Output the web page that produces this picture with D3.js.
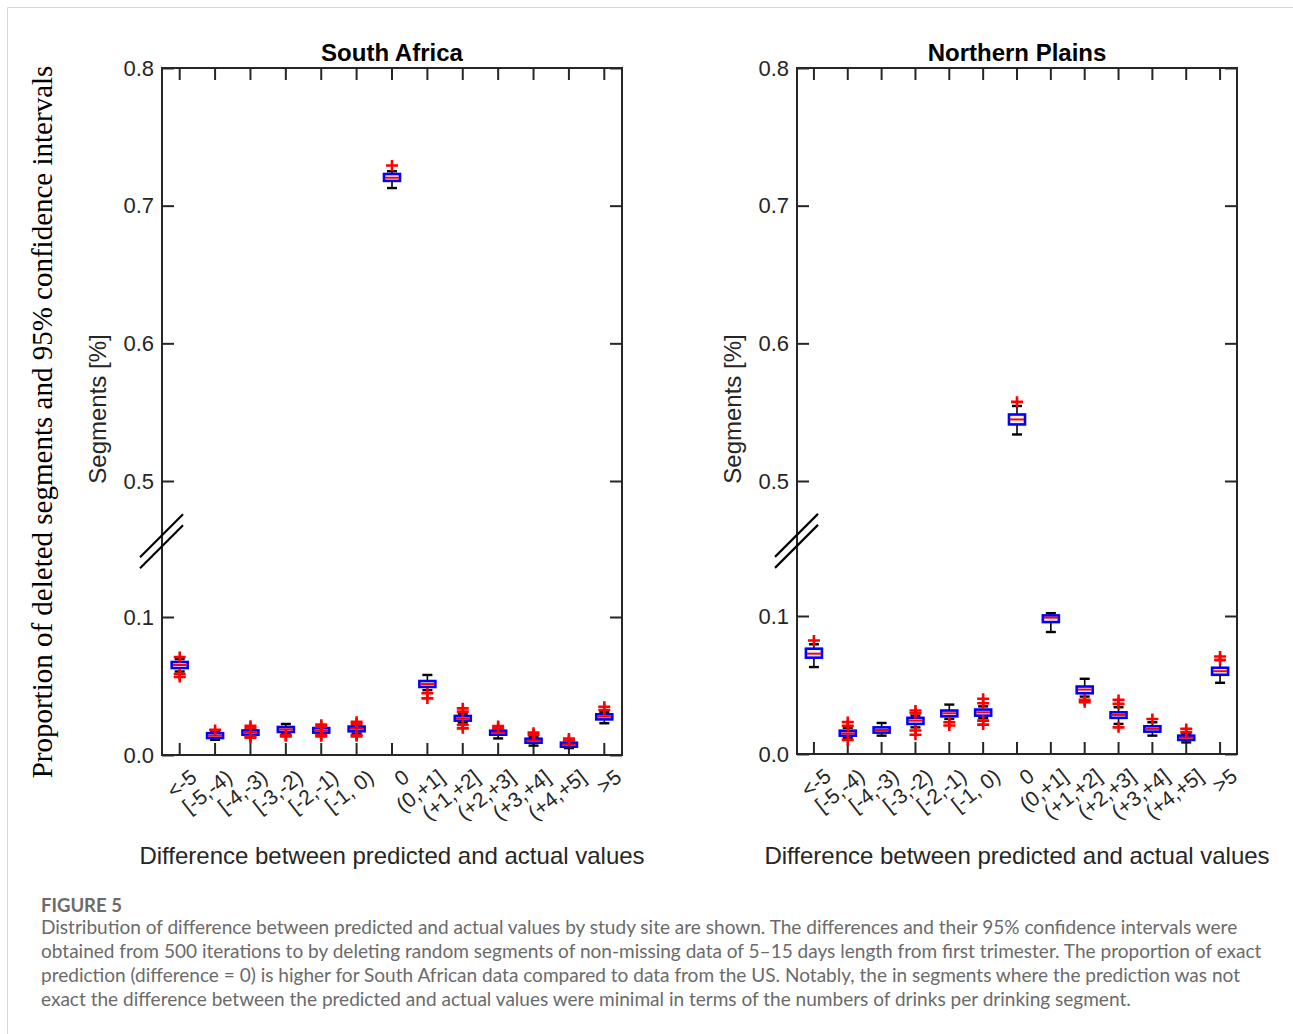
<!DOCTYPE html>
<html>
<head>
<meta charset="utf-8">
<script src="https://cdn.jsdelivr.net/npm/d3@7"></script>
<style>
  body { margin: 0; background: #fff; }
  svg { display: block; }
</style>
</head>
<body>
<div id="chart"></div>
<script>
// categories on the x axis
var categories = ["<-5", "[-5,-4)", "[-4,-3)", "[-3,-2)", "[-2,-1)", "[-1, 0)", "0",
  "(0,+1]", "(+1,+2]", "(+2,+3]", "(+3,+4]", "(+4,+5]", ">5"];

// y ticks (axis is broken between 0.1 and 0.5)
var yTicks = [0, 0.1, 0.5, 0.6, 0.7, 0.8];

// South Africa boxplot stats
var saLo  = [0.0605, 0.0110, 0.0140, 0.0155, 0.0155, 0.0155, 0.7128, 0.0470, 0.0235, 0.0120, 0.0068, 0.0050, 0.0230];
var saQ1  = [0.0630, 0.0123, 0.0147, 0.0167, 0.0162, 0.0172, 0.7180, 0.0493, 0.0249, 0.0147, 0.0089, 0.0060, 0.0258];
var saMed = [0.0652, 0.0140, 0.0164, 0.0186, 0.0178, 0.0190, 0.7203, 0.0514, 0.0266, 0.0162, 0.0104, 0.0075, 0.0278];
var saQ3  = [0.0674, 0.0158, 0.0178, 0.0203, 0.0195, 0.0206, 0.7230, 0.0536, 0.0283, 0.0176, 0.0118, 0.0089, 0.0295];
var saHi  = [0.0695, 0.0165, 0.0190, 0.0225, 0.0200, 0.0215, 0.7250, 0.0580, 0.0300, 0.0185, 0.0130, 0.0095, 0.0310];
var saOut = [
  [0.0710, 0.0587, 0.0565],
  [0.0182],
  [0.0212, 0.0197, 0.0133, 0.0125],
  [0.0145, 0.0135],
  [0.0220, 0.0205, 0.0145, 0.0135],
  [0.0241, 0.0225, 0.0145, 0.0135],
  [0.7292],
  [0.0447, 0.0410],
  [0.0338, 0.0314, 0.0217, 0.0193],
  [0.0210, 0.0193],
  [0.0162, 0.0145],
  [0.0120, 0.0104],
  [0.0350, 0.0326]
];

// Northern Plains boxplot stats
var npLo  = [0.0630, 0.0115, 0.0133, 0.0193, 0.0254, 0.0260, 0.5338, 0.0884, 0.0416, 0.0218, 0.0133, 0.0084, 0.0516];
var npQ1  = [0.0698, 0.0133, 0.0155, 0.0218, 0.0273, 0.0278, 0.5411, 0.0956, 0.0440, 0.0262, 0.0162, 0.0102, 0.0574];
var npMed = [0.0727, 0.0150, 0.0174, 0.0242, 0.0295, 0.0302, 0.5447, 0.0988, 0.0467, 0.0283, 0.0182, 0.0118, 0.0600];
var npQ3  = [0.0763, 0.0169, 0.0193, 0.0262, 0.0315, 0.0322, 0.5483, 0.1017, 0.0489, 0.0302, 0.0201, 0.0133, 0.0625];
var npHi  = [0.0795, 0.0190, 0.0225, 0.0278, 0.0358, 0.0345, 0.5545, 0.1083, 0.0545, 0.0339, 0.0230, 0.0145, 0.0680];
var npOut = [
  [0.0823],
  [0.0232, 0.0205, 0.0102],
  [],
  [0.0315, 0.0295, 0.0170, 0.0140],
  [0.0230, 0.0206],
  [0.0400, 0.0368, 0.0242, 0.0213],
  [0.5575],
  [],
  [0.0392, 0.0375],
  [0.0392, 0.0363, 0.0193],
  [0.0254],
  [0.0182, 0.0157],
  [0.0707, 0.0683]
];

var captionTitle = "FIGURE 5";
var captionLines = [
  "Distribution of difference between predicted and actual values by study site are shown. The differences and their 95% confidence intervals were",
  "obtained from 500 iterations to by deleting random segments of non-missing data of 5\u201315 days length from first trimester. The proportion of exact",
  "prediction (difference = 0) is higher for South African data compared to data from the US. Notably, the in segments where the prediction was not",
  "exact the difference between the predicted and actual values were minimal in terms of the numbers of drinks per drinking segment."
];

var W = 1293, H = 1034;
var axisFont = "Arial, 'Liberation Sans', Helvetica, sans-serif";
var ink = "#262626";

var svg = d3.select("#chart").append("svg")
  .attr("width", W).attr("height", H);

// outer frame (top and left visible)
svg.append("path")
  .attr("d", "M7.5," + H + "V7.5H" + W)
  .attr("fill", "none").attr("stroke", "#d6d6d6").attr("stroke-width", 1);

function stats(lo, q1, med, q3, hi, out) {
  return categories.map(function (c, i) {
    return { cat: c, lo: lo[i], q1: q1[i], med: med[i], q3: q3[i], hi: hi[i], out: out[i] };
  });
}

function panel(opts) {
  var x0 = opts.x0, x1 = opts.x1, top = 68, bottom = opts.bottom;
  var x = d3.scaleBand().domain(categories).range([x0, x1]);
  var y = d3.scaleLinear().domain([0, 0.1, 0.5, 0.8]).range([bottom, bottom - 138, 481, top]);
  var g = svg.append("g");

  // title
  g.append("text")
    .attr("x", (x0 + x1) / 2).attr("y", 61)
    .attr("text-anchor", "middle")
    .style("font-family", axisFont).style("font-size", "24px").style("font-weight", "bold")
    .attr("fill", "#000")
    .text(opts.title);

  // left axis with labels
  var yl = g.append("g").attr("transform", "translate(" + x0 + ",0)")
    .call(d3.axisLeft(y).tickValues(yTicks).tickFormat(d3.format(".1f"))
      .tickSizeInner(-12).tickSizeOuter(0).tickPadding(8));
  yl.select(".domain").remove();
  yl.selectAll("line").attr("stroke", ink).attr("stroke-width", 2);
  yl.selectAll("text").style("font-family", axisFont).style("font-size", "22px").attr("fill", ink);

  // right axis, ticks only
  var yr = g.append("g").attr("transform", "translate(" + x1 + ",0)")
    .call(d3.axisRight(y).tickValues(yTicks).tickFormat("")
      .tickSizeInner(-12).tickSizeOuter(0));
  yr.select(".domain").remove();
  yr.selectAll("line").attr("stroke", ink).attr("stroke-width", 2);

  // top axis, ticks only
  var xt = g.append("g").attr("transform", "translate(0," + top + ")")
    .call(d3.axisTop(x).tickFormat("").tickSizeInner(-12).tickSizeOuter(0));
  xt.select(".domain").remove();
  xt.selectAll("line").attr("stroke", ink).attr("stroke-width", 2);

  // bottom axis with rotated labels
  var xb = g.append("g").attr("transform", "translate(0," + bottom + ")")
    .call(d3.axisBottom(x).tickSizeInner(-12).tickSizeOuter(0));
  xb.select(".domain").remove();
  xb.selectAll("line").attr("stroke", ink).attr("stroke-width", 2);
  xb.selectAll("text")
    .attr("x", 0).attr("y", 0).attr("dy", null)
    .attr("text-anchor", "end")
    .attr("dominant-baseline", "central")
    .attr("transform", "translate(14,19) rotate(-38)")
    .style("font-family", axisFont).style("font-size", "21px").attr("fill", ink);

  // box frame
  g.append("rect")
    .attr("x", x0).attr("y", top).attr("width", x1 - x0).attr("height", bottom - top)
    .attr("fill", "none").attr("stroke", ink).attr("stroke-width", 2);

  // axis break marks
  var by = y(0.5) + 0.44 * (y(0.1) - y(0.5));
  [-5.5, 5.5].forEach(function (off) {
    g.append("line")
      .attr("x1", x0 - 22).attr("y1", by + off + 22)
      .attr("x2", x0 + 21).attr("y2", by + off - 21)
      .attr("stroke", "#000").attr("stroke-width", 2.2);
  });

  // y label
  g.append("text")
    .attr("transform", "translate(" + (x0 - 56) + "," + 409 + ") rotate(-90)")
    .attr("text-anchor", "middle")
    .style("font-family", axisFont).style("font-size", "24px")
    .attr("fill", ink)
    .text("Segments [%]");

  // x label
  g.append("text")
    .attr("x", (x0 + x1) / 2).attr("y", 864)
    .attr("text-anchor", "middle")
    .style("font-family", axisFont).style("font-size", "24px")
    .attr("fill", ink)
    .text("Difference between predicted and actual values");

  // boxes
  var bw = 16, cw = 10;
  var boxes = g.selectAll(".box").data(opts.data).enter().append("g")
    .attr("class", "box")
    .attr("transform", function (d) { return "translate(" + (x(d.cat) + x.bandwidth() / 2) + ",0)"; });

  // whiskers
  boxes.append("line").attr("x1", 0).attr("x2", 0)
    .attr("y1", function (d) { return y(d.q3); }).attr("y2", function (d) { return y(d.hi); })
    .attr("stroke", "#000").attr("stroke-width", 1.6);
  boxes.append("line").attr("x1", 0).attr("x2", 0)
    .attr("y1", function (d) { return y(d.q1); }).attr("y2", function (d) { return y(d.lo); })
    .attr("stroke", "#000").attr("stroke-width", 1.6);
  boxes.append("line").attr("x1", -cw / 2).attr("x2", cw / 2)
    .attr("y1", function (d) { return y(d.hi); }).attr("y2", function (d) { return y(d.hi); })
    .attr("stroke", "#000").attr("stroke-width", 2.4);
  boxes.append("line").attr("x1", -cw / 2).attr("x2", cw / 2)
    .attr("y1", function (d) { return y(d.lo); }).attr("y2", function (d) { return y(d.lo); })
    .attr("stroke", "#000").attr("stroke-width", 2.4);

  // box
  boxes.append("rect")
    .attr("x", -bw / 2).attr("width", bw)
    .attr("y", function (d) { return y(d.q3); })
    .attr("height", function (d) { return Math.max(1, y(d.q1) - y(d.q3)); })
    .attr("fill", "#f4f5ff").attr("stroke", "#0000ff").attr("stroke-width", 2.6);

  // median
  boxes.append("line").attr("x1", -bw / 2 + 1).attr("x2", bw / 2 - 1)
    .attr("y1", function (d) { return y(d.med); }).attr("y2", function (d) { return y(d.med); })
    .attr("stroke", "#ff0000").attr("stroke-width", 2);

  // outliers
  boxes.selectAll(".out").data(function (d) { return d.out; }).enter().append("path")
    .attr("class", "out")
    .attr("d", function (v) {
      var cy = y(v);
      return "M-6," + cy + "H6M0," + (cy - 5.5) + "V" + (cy + 5.5);
    })
    .attr("stroke", "#ff0000").attr("stroke-width", 2.6).attr("fill", "none");
}

panel({ title: "South Africa", x0: 162, x1: 622, bottom: 755,
  data: stats(saLo, saQ1, saMed, saQ3, saHi, saOut) });
panel({ title: "Northern Plains", x0: 797, x1: 1237, bottom: 754,
  data: stats(npLo, npQ1, npMed, npQ3, npHi, npOut) });

// outer serif y label
svg.append("text")
  .attr("transform", "translate(52,422) rotate(-90)")
  .attr("text-anchor", "middle")
  .style("font-family", "'Times New Roman', 'Liberation Serif', serif")
  .style("font-size", "29px")
  .attr("fill", "#000")
  .text("Proportion of deleted segments and 95% confidence intervals");

// caption
var capFont = "Lato, 'Open Sans', sans-serif";
svg.append("text")
  .attr("x", 41).attr("y", 912)
  .style("font-family", capFont).style("font-size", "18.5px").style("font-weight", "bold")
  .attr("fill", "#6b6b6b")
  .text(captionTitle);

var cap = svg.append("g");
var capText = cap.selectAll("text").data(captionLines).enter().append("text")
  .attr("x", 41)
  .attr("y", function (d, i) { return 934 + i * 24; })
  .style("font-family", capFont).style("font-size", "17px")
  .attr("fill", "#6a6a6a")
  .text(function (d) { return d; });

// fit caption size so the second line spans ~1221px
var w2 = capText.nodes()[1].getComputedTextLength();
var fs = 17 * 1221 / w2;
capText.style("font-size", fs.toFixed(2) + "px");
</script>
</body>
</html>
